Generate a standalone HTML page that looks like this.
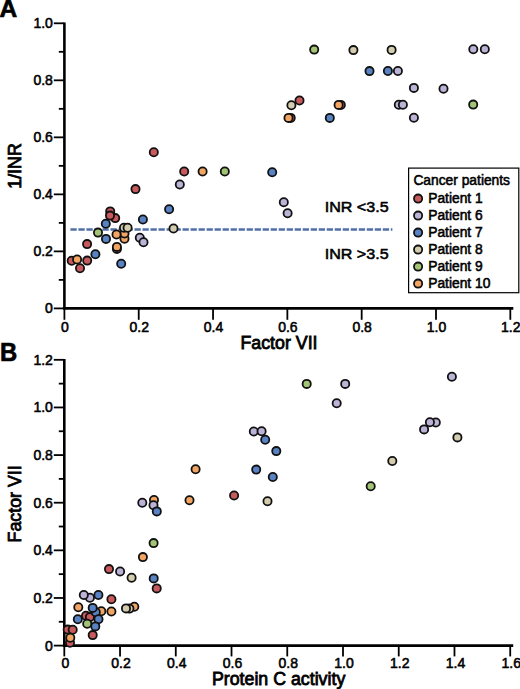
<!DOCTYPE html>
<html><head><meta charset="utf-8"><style>
html,body{margin:0;padding:0;background:#fff;}
body{width:520px;height:689px;overflow:hidden;}
svg{display:block;}
text{font-family:"Liberation Sans",sans-serif;fill:#000;stroke:#000;stroke-width:0.55px;}
.tl{font-size:14px;}
.at{font-size:17.8px;stroke-width:0.8px;}
.pl{font-size:26px;font-weight:bold;stroke-width:0.7px;}
.lg{font-size:13.8px;}
.inr{font-size:15.2px;}
</style></head><body>
<svg width="520" height="689" viewBox="0 0 520 689">
<rect width="520" height="689" fill="#fff"/>
<text x="-0.4" y="17.2" class="pl" style="font-size:24.5px">A</text>
<text x="0" y="360.5" class="pl" textLength="17.2" lengthAdjust="spacingAndGlyphs">B</text>
<line x1="64.4" y1="22.4" x2="64.4" y2="309.6" stroke="#000" stroke-width="2.6"/>
<line x1="63.3" y1="308.4" x2="513.32" y2="308.4" stroke="#000" stroke-width="2.6"/>
<line x1="53.8" y1="308.4" x2="64.4" y2="308.4" stroke="#000" stroke-width="1.8"/>
<line x1="53.8" y1="251.38" x2="64.4" y2="251.38" stroke="#000" stroke-width="1.8"/>
<line x1="53.8" y1="194.36" x2="64.4" y2="194.36" stroke="#000" stroke-width="1.8"/>
<line x1="53.8" y1="137.34" x2="64.4" y2="137.34" stroke="#000" stroke-width="1.8"/>
<line x1="53.8" y1="80.32" x2="64.4" y2="80.32" stroke="#000" stroke-width="1.8"/>
<line x1="53.8" y1="23.3" x2="64.4" y2="23.3" stroke="#000" stroke-width="1.8"/>
<line x1="58.8" y1="279.89" x2="64.4" y2="279.89" stroke="#000" stroke-width="1.8"/>
<line x1="58.8" y1="222.87" x2="64.4" y2="222.87" stroke="#000" stroke-width="1.8"/>
<line x1="58.8" y1="165.85" x2="64.4" y2="165.85" stroke="#000" stroke-width="1.8"/>
<line x1="58.8" y1="108.83" x2="64.4" y2="108.83" stroke="#000" stroke-width="1.8"/>
<line x1="58.8" y1="51.81" x2="64.4" y2="51.81" stroke="#000" stroke-width="1.8"/>
<line x1="64.4" y1="308.4" x2="64.4" y2="319.8" stroke="#000" stroke-width="1.8"/>
<line x1="138.72" y1="308.4" x2="138.72" y2="319.8" stroke="#000" stroke-width="1.8"/>
<line x1="213.04" y1="308.4" x2="213.04" y2="319.8" stroke="#000" stroke-width="1.8"/>
<line x1="287.36" y1="308.4" x2="287.36" y2="319.8" stroke="#000" stroke-width="1.8"/>
<line x1="361.68" y1="308.4" x2="361.68" y2="319.8" stroke="#000" stroke-width="1.8"/>
<line x1="436" y1="308.4" x2="436" y2="319.8" stroke="#000" stroke-width="1.8"/>
<line x1="510.32" y1="308.4" x2="510.32" y2="319.8" stroke="#000" stroke-width="1.8"/>
<text x="52.9" y="313.4" text-anchor="end" class="tl">0</text>
<text x="52.9" y="256.38" text-anchor="end" class="tl">0.2</text>
<text x="52.9" y="199.36" text-anchor="end" class="tl">0.4</text>
<text x="52.9" y="142.34" text-anchor="end" class="tl">0.6</text>
<text x="52.9" y="85.32" text-anchor="end" class="tl">0.8</text>
<text x="52.9" y="28.3" text-anchor="end" class="tl">1.0</text>
<text x="64.9" y="331.7" text-anchor="middle" class="tl">0</text>
<text x="139.22" y="331.7" text-anchor="middle" class="tl">0.2</text>
<text x="213.54" y="331.7" text-anchor="middle" class="tl">0.4</text>
<text x="287.86" y="331.7" text-anchor="middle" class="tl">0.6</text>
<text x="362.18" y="331.7" text-anchor="middle" class="tl">0.8</text>
<text x="436.5" y="331.7" text-anchor="middle" class="tl">1.0</text>
<text x="510.82" y="331.7" text-anchor="middle" class="tl">1.2</text>
<line x1="70.4" y1="229.5" x2="392.4" y2="229.5" stroke="#5070a6" stroke-width="2.5" stroke-dasharray="6.3 1.71"/>
<g stroke="#111" stroke-width="1.8">
<circle cx="153.8" cy="152.3" r="4.1" fill="#c85a5e"/>
<circle cx="184.2" cy="171.5" r="4.1" fill="#c85a5e"/>
<circle cx="135.5" cy="189.1" r="4.1" fill="#c85a5e"/>
<circle cx="110.2" cy="211.4" r="4.1" fill="#c85a5e"/>
<circle cx="115.2" cy="218.1" r="4.1" fill="#c85a5e"/>
<circle cx="110" cy="215.6" r="4.1" fill="#c85a5e"/>
<circle cx="87.1" cy="244.1" r="4.1" fill="#c85a5e"/>
<circle cx="71.7" cy="260.8" r="4.1" fill="#c85a5e"/>
<circle cx="87.2" cy="260.6" r="4.1" fill="#c85a5e"/>
<circle cx="80" cy="268.3" r="4.1" fill="#c85a5e"/>
<circle cx="299.5" cy="100.5" r="4.1" fill="#c85a5e"/>
<circle cx="290.7" cy="117.9" r="4.1" fill="#c85a5e"/>
<circle cx="340.8" cy="104.9" r="4.1" fill="#c85a5e"/>
<circle cx="116.9" cy="248.9" r="4.1" fill="#c85a5e"/>
<circle cx="473.3" cy="49.3" r="4.1" fill="#bcb3d6"/>
<circle cx="484.8" cy="49.3" r="4.1" fill="#bcb3d6"/>
<circle cx="397.9" cy="71" r="4.1" fill="#bcb3d6"/>
<circle cx="413.9" cy="87.9" r="4.1" fill="#bcb3d6"/>
<circle cx="443.5" cy="88.7" r="4.1" fill="#bcb3d6"/>
<circle cx="398.8" cy="104.8" r="4.1" fill="#bcb3d6"/>
<circle cx="402.9" cy="104.8" r="4.1" fill="#bcb3d6"/>
<circle cx="413.9" cy="117.8" r="4.1" fill="#bcb3d6"/>
<circle cx="179.8" cy="184.5" r="4.1" fill="#bcb3d6"/>
<circle cx="283.8" cy="202.3" r="4.1" fill="#bcb3d6"/>
<circle cx="287.6" cy="213.2" r="4.1" fill="#bcb3d6"/>
<circle cx="139.8" cy="237.7" r="4.1" fill="#bcb3d6"/>
<circle cx="143.5" cy="242.3" r="4.1" fill="#bcb3d6"/>
<circle cx="369.5" cy="71.1" r="4.1" fill="#5882c2"/>
<circle cx="387.9" cy="71" r="4.1" fill="#5882c2"/>
<circle cx="329.8" cy="117.9" r="4.1" fill="#5882c2"/>
<circle cx="272.2" cy="172.2" r="4.1" fill="#5882c2"/>
<circle cx="169.1" cy="209.3" r="4.1" fill="#5882c2"/>
<circle cx="142.9" cy="219.5" r="4.1" fill="#5882c2"/>
<circle cx="105.8" cy="223.8" r="4.1" fill="#5882c2"/>
<circle cx="106" cy="238.9" r="4.1" fill="#5882c2"/>
<circle cx="95.4" cy="254.2" r="4.1" fill="#5882c2"/>
<circle cx="121.2" cy="263.8" r="4.1" fill="#5882c2"/>
<circle cx="124.5" cy="238.8" r="4.1" fill="#f2a463"/>
<circle cx="124.5" cy="233.5" r="4.1" fill="#f2a463"/>
<circle cx="116.5" cy="234.5" r="4.1" fill="#f2a463"/>
<circle cx="353.4" cy="50.1" r="4.1" fill="#d3ccae"/>
<circle cx="391.6" cy="49.9" r="4.1" fill="#d3ccae"/>
<circle cx="291.4" cy="105.3" r="4.1" fill="#d3ccae"/>
<circle cx="173.5" cy="228.5" r="4.1" fill="#d3ccae"/>
<circle cx="124" cy="227.8" r="4.1" fill="#d3ccae"/>
<circle cx="127.6" cy="227.8" r="4.1" fill="#d3ccae"/>
<circle cx="314.2" cy="49.6" r="4.1" fill="#a2c474"/>
<circle cx="473.2" cy="104.6" r="4.1" fill="#a2c474"/>
<circle cx="224.8" cy="171.5" r="4.1" fill="#a2c474"/>
<circle cx="98" cy="232.6" r="4.1" fill="#a2c474"/>
<circle cx="288.5" cy="117.9" r="4.1" fill="#f2a463"/>
<circle cx="338.6" cy="104.9" r="4.1" fill="#f2a463"/>
<circle cx="202.6" cy="171.5" r="4.1" fill="#f2a463"/>
<circle cx="116.9" cy="246.9" r="4.1" fill="#f2a463"/>
<circle cx="77.1" cy="259.5" r="4.1" fill="#f2a463"/>
</g>
<text x="324.7" y="211.6" class="inr" textLength="63.9" lengthAdjust="spacingAndGlyphs">INR &lt;3.5</text>
<text x="324.7" y="258.8" class="inr" textLength="63.9" lengthAdjust="spacingAndGlyphs">INR &gt;3.5</text>
<rect x="408.6" y="168.1" width="110.2" height="124.6" fill="#fff" stroke="#000" stroke-width="1.2"/>
<text x="413.4" y="184.8" class="lg">Cancer patients</text>
<circle cx="418.1" cy="198.6" r="4.1" fill="#c85a5e" stroke="#111" stroke-width="1.8"/>
<text x="428.2" y="202.6" class="lg">Patient 1</text>
<circle cx="418.1" cy="215.6" r="4.1" fill="#bcb3d6" stroke="#111" stroke-width="1.8"/>
<text x="428.2" y="219.6" class="lg">Patient 6</text>
<circle cx="418.1" cy="232.6" r="4.1" fill="#5882c2" stroke="#111" stroke-width="1.8"/>
<text x="428.2" y="236.6" class="lg">Patient 7</text>
<circle cx="418.1" cy="249.6" r="4.1" fill="#d3ccae" stroke="#111" stroke-width="1.8"/>
<text x="428.2" y="253.6" class="lg">Patient 8</text>
<circle cx="418.1" cy="266.6" r="4.1" fill="#a2c474" stroke="#111" stroke-width="1.8"/>
<text x="428.2" y="270.6" class="lg">Patient 9</text>
<circle cx="418.1" cy="283.6" r="4.1" fill="#f2a463" stroke="#111" stroke-width="1.8"/>
<text x="428.2" y="287.6" class="lg">Patient 10</text>
<text x="279" y="348.8" text-anchor="middle" class="at">Factor VII</text>
<text transform="translate(21.3 166) rotate(-90)" text-anchor="middle" class="at">1/INR</text>
<line x1="64.3" y1="358.92" x2="64.3" y2="646.8" stroke="#000" stroke-width="2.6"/>
<line x1="63.2" y1="645.6" x2="513.22" y2="645.6" stroke="#000" stroke-width="2.6"/>
<line x1="53.8" y1="645.6" x2="64.3" y2="645.6" stroke="#000" stroke-width="1.8"/>
<line x1="53.8" y1="597.97" x2="64.3" y2="597.97" stroke="#000" stroke-width="1.8"/>
<line x1="53.8" y1="550.34" x2="64.3" y2="550.34" stroke="#000" stroke-width="1.8"/>
<line x1="53.8" y1="502.71" x2="64.3" y2="502.71" stroke="#000" stroke-width="1.8"/>
<line x1="53.8" y1="455.08" x2="64.3" y2="455.08" stroke="#000" stroke-width="1.8"/>
<line x1="53.8" y1="407.45" x2="64.3" y2="407.45" stroke="#000" stroke-width="1.8"/>
<line x1="53.8" y1="359.82" x2="64.3" y2="359.82" stroke="#000" stroke-width="1.8"/>
<line x1="58.8" y1="621.78" x2="64.3" y2="621.78" stroke="#000" stroke-width="1.8"/>
<line x1="58.8" y1="574.15" x2="64.3" y2="574.15" stroke="#000" stroke-width="1.8"/>
<line x1="58.8" y1="526.52" x2="64.3" y2="526.52" stroke="#000" stroke-width="1.8"/>
<line x1="58.8" y1="478.9" x2="64.3" y2="478.9" stroke="#000" stroke-width="1.8"/>
<line x1="58.8" y1="431.26" x2="64.3" y2="431.26" stroke="#000" stroke-width="1.8"/>
<line x1="58.8" y1="383.63" x2="64.3" y2="383.63" stroke="#000" stroke-width="1.8"/>
<line x1="64.3" y1="645.6" x2="64.3" y2="656.4" stroke="#000" stroke-width="1.8"/>
<line x1="120.04" y1="645.6" x2="120.04" y2="656.4" stroke="#000" stroke-width="1.8"/>
<line x1="175.78" y1="645.6" x2="175.78" y2="656.4" stroke="#000" stroke-width="1.8"/>
<line x1="231.52" y1="645.6" x2="231.52" y2="656.4" stroke="#000" stroke-width="1.8"/>
<line x1="287.26" y1="645.6" x2="287.26" y2="656.4" stroke="#000" stroke-width="1.8"/>
<line x1="343" y1="645.6" x2="343" y2="656.4" stroke="#000" stroke-width="1.8"/>
<line x1="398.74" y1="645.6" x2="398.74" y2="656.4" stroke="#000" stroke-width="1.8"/>
<line x1="454.48" y1="645.6" x2="454.48" y2="656.4" stroke="#000" stroke-width="1.8"/>
<line x1="510.22" y1="645.6" x2="510.22" y2="656.4" stroke="#000" stroke-width="1.8"/>
<text x="52.9" y="650.6" text-anchor="end" class="tl">0</text>
<text x="52.9" y="602.97" text-anchor="end" class="tl">0.2</text>
<text x="52.9" y="555.34" text-anchor="end" class="tl">0.4</text>
<text x="52.9" y="507.71" text-anchor="end" class="tl">0.6</text>
<text x="52.9" y="460.08" text-anchor="end" class="tl">0.8</text>
<text x="52.9" y="412.45" text-anchor="end" class="tl">1.0</text>
<text x="52.9" y="364.82" text-anchor="end" class="tl">1.2</text>
<text x="65.3" y="668.4" text-anchor="middle" class="tl">0</text>
<text x="121.04" y="668.4" text-anchor="middle" class="tl">0.2</text>
<text x="176.78" y="668.4" text-anchor="middle" class="tl">0.4</text>
<text x="232.52" y="668.4" text-anchor="middle" class="tl">0.6</text>
<text x="288.26" y="668.4" text-anchor="middle" class="tl">0.8</text>
<text x="344" y="668.4" text-anchor="middle" class="tl">1.0</text>
<text x="399.74" y="668.4" text-anchor="middle" class="tl">1.2</text>
<text x="455.48" y="668.4" text-anchor="middle" class="tl">1.4</text>
<text x="511.22" y="668.4" text-anchor="middle" class="tl">1.6</text>
<g stroke="#111" stroke-width="1.8">
<circle cx="154" cy="500" r="4.1" fill="#f2a463"/>
<circle cx="134.3" cy="606.8" r="4.1" fill="#f2a463"/>
<circle cx="101.3" cy="611.3" r="4.1" fill="#f2a463"/>
<circle cx="234.1" cy="495.5" r="4.1" fill="#c85a5e"/>
<circle cx="156.7" cy="588.4" r="4.1" fill="#c85a5e"/>
<circle cx="109" cy="569.1" r="4.1" fill="#c85a5e"/>
<circle cx="111.4" cy="599.3" r="4.1" fill="#c85a5e"/>
<circle cx="86" cy="615.7" r="4.1" fill="#c85a5e"/>
<circle cx="89.9" cy="617.1" r="4.1" fill="#c85a5e"/>
<circle cx="67.7" cy="629.6" r="4.1" fill="#c85a5e"/>
<circle cx="72.7" cy="629.8" r="4.1" fill="#c85a5e"/>
<circle cx="92.7" cy="635.1" r="4.1" fill="#c85a5e"/>
<circle cx="70" cy="642.7" r="4.1" fill="#c85a5e"/>
<circle cx="451.9" cy="376.8" r="4.1" fill="#bcb3d6"/>
<circle cx="345.2" cy="383.9" r="4.1" fill="#bcb3d6"/>
<circle cx="336.7" cy="403.3" r="4.1" fill="#bcb3d6"/>
<circle cx="435.8" cy="422.5" r="4.1" fill="#bcb3d6"/>
<circle cx="429.9" cy="422.2" r="4.1" fill="#bcb3d6"/>
<circle cx="424.1" cy="429.4" r="4.1" fill="#bcb3d6"/>
<circle cx="253.8" cy="431.5" r="4.1" fill="#bcb3d6"/>
<circle cx="261.6" cy="431.3" r="4.1" fill="#bcb3d6"/>
<circle cx="142.3" cy="502.8" r="4.1" fill="#bcb3d6"/>
<circle cx="153.5" cy="505.2" r="4.1" fill="#bcb3d6"/>
<circle cx="120.1" cy="571.5" r="4.1" fill="#bcb3d6"/>
<circle cx="89.9" cy="597.8" r="4.1" fill="#bcb3d6"/>
<circle cx="83.8" cy="595" r="4.1" fill="#bcb3d6"/>
<circle cx="265.2" cy="439.7" r="4.1" fill="#5882c2"/>
<circle cx="276.3" cy="451.1" r="4.1" fill="#5882c2"/>
<circle cx="256.2" cy="469.6" r="4.1" fill="#5882c2"/>
<circle cx="272.8" cy="477" r="4.1" fill="#5882c2"/>
<circle cx="156.8" cy="511.4" r="4.1" fill="#5882c2"/>
<circle cx="153.7" cy="578.4" r="4.1" fill="#5882c2"/>
<circle cx="98.4" cy="595" r="4.1" fill="#5882c2"/>
<circle cx="95.8" cy="612.2" r="4.1" fill="#5882c2"/>
<circle cx="92.7" cy="607.9" r="4.1" fill="#5882c2"/>
<circle cx="77.8" cy="619.2" r="4.1" fill="#5882c2"/>
<circle cx="98.5" cy="619.2" r="4.1" fill="#5882c2"/>
<circle cx="95.3" cy="626.4" r="4.1" fill="#5882c2"/>
<circle cx="457.4" cy="437.4" r="4.1" fill="#d3ccae"/>
<circle cx="392.3" cy="461" r="4.1" fill="#d3ccae"/>
<circle cx="267.5" cy="501.3" r="4.1" fill="#d3ccae"/>
<circle cx="131.6" cy="577.8" r="4.1" fill="#d3ccae"/>
<circle cx="129.4" cy="608.6" r="4.1" fill="#d3ccae"/>
<circle cx="126" cy="608.4" r="4.1" fill="#d3ccae"/>
<circle cx="306.7" cy="383.9" r="4.1" fill="#a2c474"/>
<circle cx="370.7" cy="486.2" r="4.1" fill="#a2c474"/>
<circle cx="153.6" cy="543.1" r="4.1" fill="#a2c474"/>
<circle cx="87.2" cy="623.7" r="4.1" fill="#a2c474"/>
<circle cx="195.6" cy="469.3" r="4.1" fill="#f2a463"/>
<circle cx="189.5" cy="500.3" r="4.1" fill="#f2a463"/>
<circle cx="142.9" cy="557.1" r="4.1" fill="#f2a463"/>
<circle cx="111.4" cy="611.5" r="4.1" fill="#f2a463"/>
<circle cx="78.3" cy="607.3" r="4.1" fill="#f2a463"/>
<circle cx="70.3" cy="637.8" r="4.1" fill="#f2a463"/>
</g>
<text x="278.6" y="685" text-anchor="middle" class="at">Protein C activity</text>
<text transform="translate(21.3 503.9) rotate(-90)" text-anchor="middle" class="at">Factor VII</text>
</svg>
</body></html>
